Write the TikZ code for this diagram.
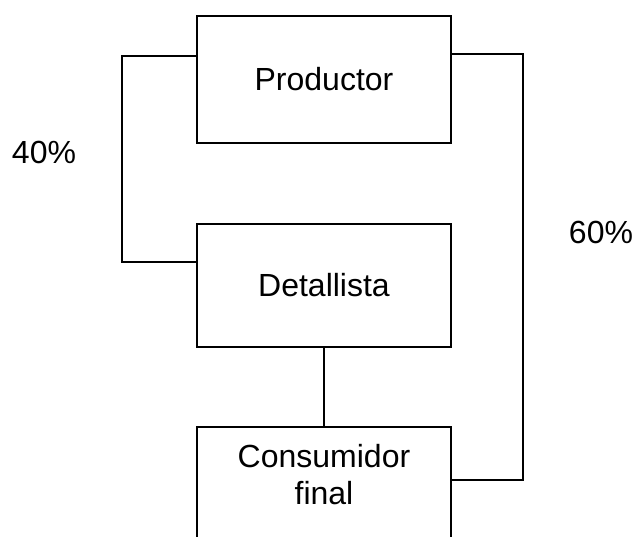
\documentclass[tikz,border=0pt]{standalone}
\usepackage{fontspec}
\setmainfont{Liberation Sans}

\tikzset{
	box/.style={draw, line width=1.6pt, minimum width=254pt, inner sep=0pt},
	link/.style={line width=1.6pt}
}

\begin{document}
\begin{tikzpicture}[x=1pt, y=-1pt, font=\fontsize{32}{37}\selectfont]
		\useasboundingbox (0,0) rectangle (636,537);
		\clip (0,0) rectangle (636,537);
		\node[box, minimum height=127pt] (prod) at (324,79.5) {Productor};
		\node[box, minimum height=123pt] (det) at (324,285.5) {Detallista};
		\node[box, minimum height=140pt, anchor=north] (cons) at (324,426) {};
		\node[align=center] (consTxt) at (324,475) {Consumidor\\final};
		\draw[link] ([yshift=23.5pt]prod.west) -- ++(-74,0) |- ([yshift=23.5pt]det.west);
		\draw[link] ([yshift=25.5pt]prod.east) -- ++(71,0) |- ([yshift=17pt]cons.east);
		\draw[link] (det.south) -- (cons.north);
		\node (pctLeft) at (44,152) {40\%};
		\node (pctRight) at (601,232) {60\%};
	\end{tikzpicture}
\end{document}
